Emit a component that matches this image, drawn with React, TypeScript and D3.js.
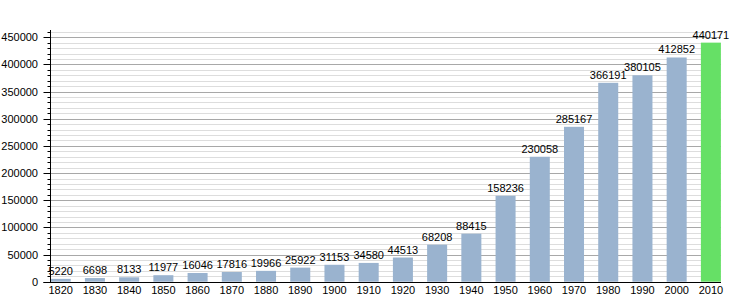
import React from "react";
import * as d3 from "d3";

const years = ["1820","1830","1840","1850","1860","1870","1880","1890","1900","1910","1920","1930","1940","1950","1960","1970","1980","1990","2000","2010"];
const population = [5220,6698,8133,11977,16046,17816,19966,25922,31153,34580,44513,68208,88415,158236,230058,285167,366191,380105,412852,440171];
const highlightYear = "2010";
const yMajorTicks = [0,50000,100000,150000,200000,250000,300000,350000,400000,450000];

const W = 750, H = 300;
const axisX = 50.5;
const baseY = 281.7;
const topY = 30;

export default function App() {
  const y = d3.scaleLinear().domain([0, 450000]).range([baseY, 37.3]);
  const x = d3.scaleBand<string>().domain(years).range([50.7, 720.9]).paddingInner(0.415).paddingOuter(0);
  const minorTicks = d3.range(0, 460001, 10000);
  const gridRight = 721;
  const font = "Liberation Sans, Arial, sans-serif";
  return (
    <svg width={W} height={H} style={{ position: "fixed", left: 0, top: 0, background: "#fff" }} fontFamily={font}>
      <rect x={0} y={0} width={W} height={H} fill="#fff" />
      {minorTicks.filter(t => t % 50000 !== 0).map(t => (
        <g key={"m" + t}>
          <line x1={axisX} x2={gridRight} y1={Math.round(y(t)) + 0.5} y2={Math.round(y(t)) + 0.5} stroke="#dddddd" strokeWidth={1} />
          <line x1={axisX - 3} x2={axisX} y1={Math.round(y(t)) + 0.5} y2={Math.round(y(t)) + 0.5} stroke="#000" strokeWidth={1} />
        </g>
      ))}
      {yMajorTicks.map(t => (
        <g key={"M" + t}>
          {t > 0 && <line x1={axisX} x2={gridRight} y1={Math.round(y(t)) + 0.5} y2={Math.round(y(t)) + 0.5} stroke="#a8a8a8" strokeWidth={1} />}
          <line x1={axisX - 7} x2={axisX} y1={Math.round(y(t)) + 0.5} y2={Math.round(y(t)) + 0.5} stroke="#000" strokeWidth={1} />
          <text x={38} y={y(t) + 4} textAnchor="end" fontSize={11} fill="#000">{t}</text>
        </g>
      ))}
      {years.map((yr, i) => {
        const v = population[i];
        const bx = x(yr)!;
        const bw = x.bandwidth();
        return (
          <g key={yr}>
            <rect x={bx} y={y(v)} width={bw} height={baseY - y(v)} fill={yr === highlightYear ? "#66e066" : "#9ab3cf"} />
            <text x={bx + bw / 2} y={y(v) - 4} textAnchor="middle" fontSize={11} fill="#000">{v}</text>
            <text x={bx + bw / 2} y={294} textAnchor="middle" fontSize={11} fill="#000">{yr}</text>
          </g>
        );
      })}
      <line x1={axisX} x2={axisX} y1={topY} y2={baseY + 1} stroke="#000" strokeWidth={1} />
      <line x1={axisX - 7} x2={gridRight} y1={Math.round(baseY) + 0.5} y2={Math.round(baseY) + 0.5} stroke="#000" strokeWidth={1.2} />
    </svg>
  );
}
